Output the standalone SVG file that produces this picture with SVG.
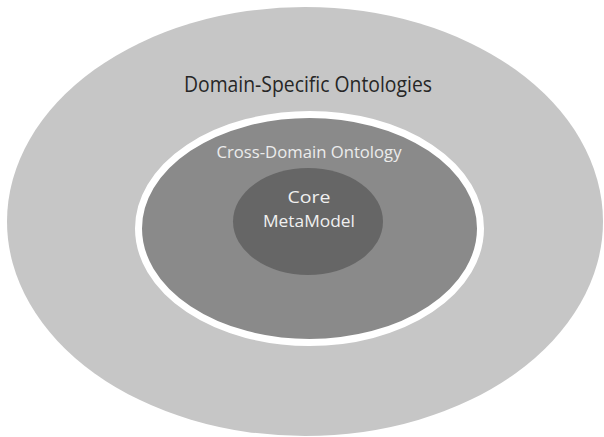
<svg xmlns="http://www.w3.org/2000/svg" width="604" height="437" viewBox="0 0 604 437">
<style>
text{font-family:"Open Sans","Liberation Sans",sans-serif;text-anchor:middle}
.t1{font-size:21px;fill:#262626}
.t2{font-size:17px;fill:#ececec}
.t3{font-size:17px;fill:#f0f0f0}
</style>
<rect width="604" height="437" fill="#ffffff"/>
<g id="domain-specific">
<ellipse cx="305" cy="221.5" rx="298" ry="214.5" fill="#c6c6c6"/>
<text class="t1" x="308" y="92" textLength="248" lengthAdjust="spacingAndGlyphs">Domain-Specific Ontologies</text>
</g>
<g id="cross-domain">
<ellipse cx="309.5" cy="228.5" rx="171" ry="114" fill="#8a8a8a" stroke="#ffffff" stroke-width="7"/>
<text class="t2" x="309" y="158" textLength="185" lengthAdjust="spacingAndGlyphs">Cross-Domain Ontology</text>
</g>
<g id="core">
<ellipse cx="308" cy="221.5" rx="75" ry="53.5" fill="#666666"/>
<text class="t3" x="309" y="203" textLength="43" lengthAdjust="spacingAndGlyphs">Core</text>
<text class="t3" x="309" y="227" textLength="92" lengthAdjust="spacingAndGlyphs">MetaModel</text>
</g>
<g id="connectors"/>
</svg>
